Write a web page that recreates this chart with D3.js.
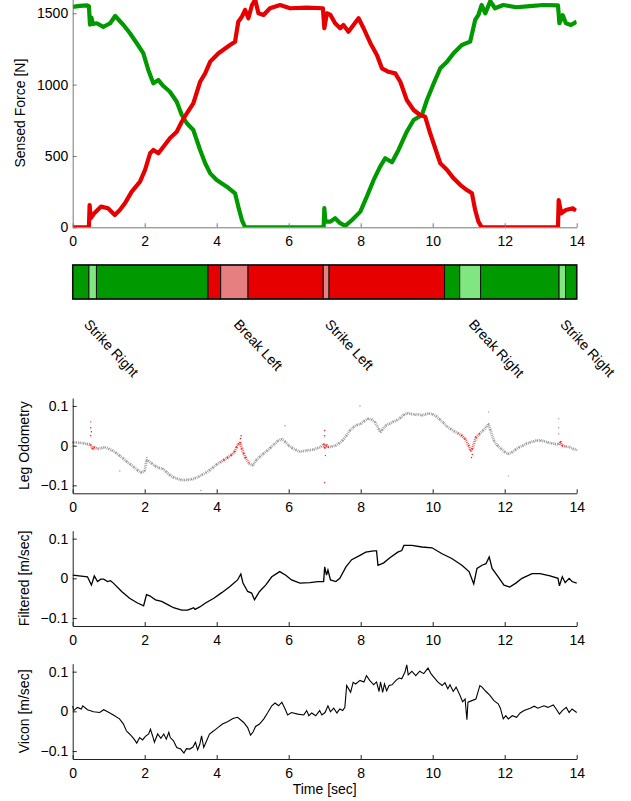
<!DOCTYPE html>
<meta charset="utf-8">
<style>
body { margin: 0; background: #fff; }
svg text { font-family: "Liberation Sans", Arial, sans-serif; font-size: 14px; fill: #000; }
.axis text { font-size: 14px; }
.axis--top path, .axis--top line { stroke: #777; }
.axis--low path, .axis--low line { stroke: #222; }
</style>
<body>
<svg width="631" height="801"></svg>
<script src="https://d3js.org/d3.v7.min.js"></script>
<script>

// ---- data ----
var timeTicks = [0, 2, 4, 6, 8, 10, 12, 14];
var forceTicks = [0, 500, 1000, 1500];
var velTicks = [-0.1, 0, 0.1];

// right foot force (green) [t, N]
var greenForce = [[0,1545],[0.2,1552],[0.4,1555],[0.45,1550],[0.48,1420],[0.52,1470],[0.56,1425],[0.67,1430],[0.85,1405],[1.04,1430],[1.18,1481],[1.41,1418],[1.59,1360],[1.78,1290],[1.96,1220],[2.1,1103],[2.24,1009],[2.38,1032],[2.52,990],[2.7,950],[2.89,880],[3.03,787],[3.17,729],[3.35,682],[3.54,542],[3.68,449],[3.82,378],[4.0,332],[4.28,285],[4.51,238],[4.6,145],[4.7,51],[4.79,0],[5.5,0],[6.5,0],[6.97,0],[6.99,134],[7.02,40],[7.16,40],[7.29,64],[7.43,29],[7.57,10],[7.76,51],[7.99,110],[8.17,215],[8.36,332],[8.54,425],[8.68,484],[8.87,456],[9.05,542],[9.28,670],[9.47,752],[9.7,787],[9.84,892],[10.03,1009],[10.21,1114],[10.4,1161],[10.58,1220],[10.81,1278],[11.04,1301],[11.18,1453],[11.27,1488],[11.36,1558],[11.46,1499],[11.6,1585],[11.73,1535],[11.96,1558],[12.33,1542],[12.7,1550],[13.07,1558],[13.48,1555],[13.52,1430],[13.61,1487],[13.7,1430],[13.84,1418],[14.0,1441]];

// left foot force (red) [t, N]
var redForce = [[0,0],[0.45,0],[0.47,156],[0.5,63],[0.6,98],[0.79,145],[0.98,133],[1.17,86],[1.31,121],[1.45,168],[1.64,250],[1.87,320],[2.01,402],[2.15,519],[2.24,542],[2.38,519],[2.52,565],[2.7,624],[2.89,670],[3.03,740],[3.17,799],[3.35,869],[3.54,1020],[3.68,1079],[3.82,1161],[4.05,1220],[4.37,1278],[4.51,1301],[4.6,1441],[4.7,1476],[4.79,1523],[4.88,1465],[4.98,1558],[5.07,1595],[5.16,1500],[5.3,1488],[5.48,1535],[5.76,1558],[6.04,1535],[6.5,1540],[6.95,1535],[6.99,1395],[7.06,1500],[7.16,1488],[7.29,1430],[7.43,1395],[7.52,1418],[7.66,1371],[7.8,1418],[7.94,1465],[8.08,1395],[8.27,1290],[8.45,1208],[8.59,1114],[8.77,1090],[8.96,1079],[9.1,1020],[9.28,892],[9.47,822],[9.65,787],[9.79,775],[9.93,659],[10.07,554],[10.21,449],[10.4,402],[10.58,343],[10.77,296],[10.95,261],[11.09,238],[11.18,121],[11.27,40],[11.36,0],[13.48,0],[13.5,191],[13.57,98],[13.7,121],[13.89,133],[13.98,117]];

// gait phases
var phaseEdges = [0, 0.45, 0.66, 3.76, 4.11, 4.87, 6.96, 7.12, 10.33, 10.75, 11.33, 13.51, 13.69, 14];
var phaseFoot  = ["R","R","R","L","L","L","L","L","R","R","R","R","R"];
var phaseShade = [0, 1, 0, 0, 1, 0, 1, 0, 0, 1, 0, 1, 0];
var eventNames = ["Strike Right", "Break Left", "Strike Left", "Break Right", "Strike Right"];
var eventTimes = [0.29, 4.45, 6.99, 10.98, 13.52];

// leg odometry [t, m/s]
var odometry = [[0,0.008],[0.1,0.008],[0.2,0.007],[0.3,0.006],[0.4,0.004],[0.5,0.002],[0.55,-0.008],[0.6,-0.004],[0.7,-0.008],[0.8,-0.006],[0.9,-0.004],[1.0,-0.008],[1.1,-0.012],[1.2,-0.018],[1.3,-0.025],[1.4,-0.032],[1.5,-0.04],[1.6,-0.047],[1.7,-0.054],[1.8,-0.062],[1.9,-0.068],[2.0,-0.064],[2.05,-0.036],[2.1,-0.038],[2.2,-0.045],[2.3,-0.052],[2.4,-0.056],[2.5,-0.058],[2.6,-0.066],[2.7,-0.074],[2.8,-0.08],[2.9,-0.083],[3.0,-0.086],[3.1,-0.087],[3.2,-0.086],[3.3,-0.085],[3.4,-0.082],[3.5,-0.078],[3.6,-0.073],[3.7,-0.068],[3.8,-0.062],[3.9,-0.055],[4.0,-0.047],[4.1,-0.042],[4.2,-0.036],[4.3,-0.03],[4.4,-0.024],[4.5,-0.015],[4.55,-0.004],[4.6,0.004],[4.65,0.008],[4.7,-0.008],[4.75,-0.02],[4.8,-0.03],[4.9,-0.045],[5.0,-0.05],[5.1,-0.036],[5.2,-0.028],[5.3,-0.02],[5.4,-0.013],[5.5,-0.005],[5.6,0.004],[5.7,0.012],[5.8,0.017],[5.9,0.01],[6.0,0.0],[6.1,-0.006],[6.2,-0.011],[6.3,-0.015],[6.4,-0.014],[6.5,-0.012],[6.6,-0.011],[6.7,-0.01],[6.8,-0.006],[6.9,-0.003],[6.98,0.004],[7.0,-0.006],[7.05,0.002],[7.1,-0.004],[7.2,-0.002],[7.3,0.0],[7.4,0.006],[7.5,0.013],[7.6,0.025],[7.7,0.038],[7.8,0.047],[7.9,0.052],[8.0,0.055],[8.1,0.062],[8.2,0.068],[8.3,0.066],[8.4,0.059],[8.5,0.042],[8.55,0.034],[8.6,0.04],[8.7,0.051],[8.8,0.055],[8.9,0.06],[9.0,0.064],[9.1,0.07],[9.2,0.078],[9.3,0.082],[9.4,0.08],[9.5,0.078],[9.6,0.079],[9.7,0.076],[9.8,0.079],[9.9,0.081],[10.0,0.079],[10.1,0.074],[10.2,0.066],[10.3,0.057],[10.4,0.048],[10.5,0.042],[10.6,0.036],[10.7,0.031],[10.8,0.026],[10.9,0.017],[11.0,0.0],[11.05,-0.013],[11.1,-0.008],[11.2,0.021],[11.3,0.03],[11.4,0.038],[11.5,0.048],[11.55,0.055],[11.6,0.04],[11.7,0.013],[11.8,0.0],[11.9,-0.008],[12.0,-0.016],[12.1,-0.021],[12.2,-0.017],[12.3,-0.01],[12.4,-0.004],[12.5,0.0],[12.6,0.005],[12.7,0.008],[12.8,0.011],[12.9,0.013],[13.0,0.013],[13.1,0.011],[13.2,0.008],[13.3,0.006],[13.4,0.004],[13.5,0.003],[13.55,0.01],[13.6,0.0],[13.7,-0.002],[13.8,-0.004],[13.9,-0.008],[14.0,-0.011]];
// stray odometry samples
var odometryStray = [[0.5,0.06],[0.5,0.045],[0.52,0.035],[0.5,0.025],[1.31,-0.064],[2.06,-0.03],[3.56,-0.113],[4.68,0.025],[4.66,0.018],[5.9,0.05],[7.0,0.038],[7.0,0.025],[7.0,-0.093],[7.02,-0.025],[7.98,0.1],[11.08,-0.03],[11.1,-0.022],[11.55,0.085],[12.1,-0.076],[13.5,0.068],[13.5,0.045],[13.5,0.03]];

// filtered velocity [t, m/s]
var filtered = [[0,0.008],[0.41,0.004],[0.52,-0.017],[0.6,0.006],[0.69,-0.008],[0.78,-0.002],[0.86,-0.002],[0.97,-0.008],[1.05,-0.006],[1.13,-0.012],[1.36,-0.033],[1.58,-0.05],[1.8,-0.062],[1.97,-0.069],[2.05,-0.041],[2.14,-0.044],[2.3,-0.054],[2.47,-0.058],[2.64,-0.066],[2.8,-0.074],[3.03,-0.08],[3.19,-0.08],[3.3,-0.076],[3.36,-0.074],[3.4,-0.078],[3.53,-0.072],[3.69,-0.062],[3.92,-0.05],[4.14,-0.036],[4.36,-0.021],[4.58,-0.004],[4.67,0.011],[4.73,-0.012],[4.86,-0.033],[4.97,-0.037],[5.05,-0.054],[5.19,-0.033],[5.36,-0.017],[5.53,0.004],[5.75,0.017],[5.92,0.008],[6.08,-0.004],[6.31,-0.012],[6.59,-0.011],[6.81,-0.008],[6.97,-0.008],[7.0,0.029],[7.05,0.008],[7.09,0.021],[7.16,-0.004],[7.31,-0.008],[7.42,0],[7.59,0.029],[7.75,0.047],[7.98,0.058],[8.14,0.066],[8.36,0.069],[8.44,0.069],[8.48,0.033],[8.64,0.039],[8.81,0.052],[9.03,0.066],[9.14,0.07],[9.2,0.083],[9.42,0.083],[9.7,0.079],[9.98,0.077],[10.26,0.062],[10.53,0.05],[10.81,0.033],[11.01,0.017],[11.14,-0.014],[11.23,0.025],[11.37,0.033],[11.48,0.037],[11.57,0.054],[11.65,0.025],[11.82,0.004],[11.98,-0.017],[12.14,-0.022],[12.31,-0.012],[12.48,0],[12.76,0.012],[12.98,0.012],[13.26,0.006],[13.48,0],[13.52,-0.019],[13.6,0.004],[13.68,-0.011],[13.79,0],[13.87,-0.008],[14,-0.012]];

// vicon velocity [t, m/s]
var vicon = [[0,0.013],[0.03,0.002],[0.13,0.01],[0.24,0.006],[0.28,0.014],[0.41,0.004],[0.58,-0.001],[0.75,-0.003],[0.86,0.004],[0.97,-0.001],[1.13,-0.009],[1.3,-0.019],[1.41,-0.032],[1.49,-0.049],[1.58,-0.057],[1.69,-0.068],[1.78,-0.08],[1.86,-0.066],[1.94,-0.072],[2.02,-0.063],[2.11,-0.057],[2.16,-0.045],[2.22,-0.062],[2.27,-0.078],[2.36,-0.057],[2.45,-0.068],[2.53,-0.057],[2.6,-0.07],[2.67,-0.053],[2.71,-0.066],[2.8,-0.074],[2.89,-0.091],[3.0,-0.095],[3.09,-0.105],[3.16,-0.094],[3.25,-0.095],[3.34,-0.09],[3.41,-0.078],[3.47,-0.097],[3.53,-0.083],[3.58,-0.062],[3.64,-0.091],[3.72,-0.074],[3.8,-0.057],[3.92,-0.049],[4.03,-0.041],[4.16,-0.032],[4.3,-0.026],[4.45,-0.018],[4.58,-0.015],[4.75,-0.028],[4.86,-0.041],[4.94,-0.06],[5.01,-0.052],[5.08,-0.038],[5.19,-0.032],[5.31,-0.019],[5.42,-0.003],[5.53,0.014],[5.62,0.021],[5.72,0.014],[5.81,0.023],[5.9,0.006],[5.97,-0.009],[6.08,-0.003],[6.25,-0.007],[6.42,-0.009],[6.5,0.002],[6.56,-0.011],[6.64,-0.004],[6.75,-0.011],[6.86,0.002],[6.92,-0.009],[7.01,-0.003],[7.09,0.014],[7.16,-0.001],[7.25,0.008],[7.34,-0.004],[7.42,0.006],[7.5,0.002],[7.56,0.01],[7.61,0.065],[7.67,0.056],[7.72,0.048],[7.79,0.073],[7.86,0.069],[7.98,0.078],[8.09,0.074],[8.16,0.09],[8.25,0.078],[8.36,0.067],[8.44,0.074],[8.51,0.05],[8.55,0.074],[8.61,0.048],[8.66,0.069],[8.72,0.052],[8.79,0.065],[8.87,0.067],[8.98,0.078],[9.07,0.084],[9.14,0.082],[9.23,0.099],[9.28,0.117],[9.32,0.092],[9.42,0.101],[9.53,0.09],[9.64,0.101],[9.75,0.095],[9.87,0.109],[9.95,0.095],[10.03,0.086],[10.14,0.074],[10.26,0.065],[10.34,0.072],[10.42,0.057],[10.48,0.067],[10.57,0.05],[10.65,0.061],[10.76,0.04],[10.83,0.024],[10.9,0.031],[10.95,-0.021],[10.98,0.023],[11.09,0.027],[11.2,0.031],[11.31,0.065],[11.37,0.061],[11.48,0.05],[11.59,0.04],[11.7,0.027],[11.82,0.019],[11.88,0.008],[11.96,-0.019],[12.03,-0.011],[12.1,-0.019],[12.21,-0.011],[12.33,-0.015],[12.43,-0.004],[12.54,0.002],[12.71,0.008],[12.82,0.013],[12.92,0.008],[13.09,0.014],[13.2,0.01],[13.35,0.016],[13.43,0.006],[13.52,-0.007],[13.6,0.002],[13.71,0.01],[13.79,-0.003],[13.87,0.006],[14,-0.003]];

// ---- layout ----
var svg = d3.select("svg");
var green = "#009900", greenLight = "#80e680", red = "#e60000", redLight = "#e68080";

var x = d3.scaleLinear().domain([0, 14]).range([72.7, 576.7]);

function isShaded(t) {
  for (var i = 0; i < phaseShade.length; i++) {
    if (phaseShade[i] && t >= phaseEdges[i] && t <= phaseEdges[i + 1]) return true;
  }
  return false;
}

function drawAxes(y, ticks, bottom, cls, label, labelX) {
  var g = svg.append("g");
  g.append("g")
      .attr("class", "axis " + cls)
      .attr("transform", "translate(0," + bottom + ")")
      .call(d3.axisBottom(x).tickValues(timeTicks).tickSizeInner(-4).tickSizeOuter(0).tickPadding(9));
  g.append("g")
      .attr("class", "axis " + cls)
      .attr("transform", "translate(" + x(0) + ",0)")
      .call(d3.axisLeft(y).tickValues(ticks).tickSizeInner(-4).tickSizeOuter(0).tickPadding(4.5)
        .tickFormat(function(d) { return d < 0 ? "\u2212" + Math.abs(d) : d; }));
  svg.selectAll(".axis text").attr("fill", "#000").style("font-family", "'Liberation Sans', Arial, sans-serif").style("font-size", "14px");
  var r = y.range();
  svg.append("text")
      .attr("transform", "translate(" + labelX + "," + ((r[0] + r[1]) / 2) + ") rotate(-90)")
      .attr("text-anchor", "middle")
      .text(label);
  return g;
}

// ---- panel 1: sensed force ----
var yF = d3.scaleLinear().domain([0, 1600]).range([227.3, -1]);
svg.append("clipPath").attr("id", "clipF").append("rect")
    .attr("x", x(0)).attr("y", yF(1600)).attr("width", x(14) - x(0)).attr("height", yF(0) - yF(1600));

var forceLine = d3.line().x(function(d) { return x(d[0]); }).y(function(d) { return yF(d[1]); });
var fg = svg.append("g").attr("clip-path", "url(#clipF)");
fg.append("path").datum(greenForce).attr("d", forceLine)
    .attr("fill", "none").attr("stroke", green).attr("stroke-width", 4.2).attr("stroke-linejoin", "round");
fg.append("path").datum(redForce).attr("d", forceLine)
    .attr("fill", "none").attr("stroke", red).attr("stroke-width", 4.2).attr("stroke-linejoin", "round");
drawAxes(yF, forceTicks, 227.3, "axis--top", "Sensed Force [N]", 25);

// ---- gait phase bar ----
var barTop = 265, barBottom = 299;
var phases = phaseFoot.map(function(f, i) {
  return { t0: phaseEdges[i], t1: phaseEdges[i + 1], foot: f, shade: phaseShade[i] };
});
svg.selectAll(".phase")
  .data(phases)
  .enter().append("rect")
    .attr("class", "phase")
    .attr("x", function(d) { return x(d.t0); })
    .attr("y", barTop)
    .attr("width", function(d) { return x(d.t1) - x(d.t0); })
    .attr("height", barBottom - barTop)
    .attr("fill", function(d) {
      if (d.foot == "R") return d.shade ? greenLight : green;
      return d.shade ? redLight : red;
    })
    .attr("stroke", "#111")
    .attr("stroke-width", 1);
svg.append("rect")
    .attr("x", x(0)).attr("y", barTop)
    .attr("width", x(14) - x(0)).attr("height", barBottom - barTop)
    .attr("fill", "none").attr("stroke", "#111").attr("stroke-width", 1.5);

svg.selectAll(".event")
  .data(eventNames)
  .enter().append("text")
    .attr("class", "event")
    .attr("transform", function(d, i) { return "translate(" + x(eventTimes[i]) + ",325) rotate(47)"; })
    .text(function(d) { return d; });

// ---- panel 2: leg odometry ----
var yO = d3.scaleLinear().domain([-0.12, 0.12]).range([493.3, 398]);
var og = svg.append("g");
for (var i = 0; i < odometry.length - 1; i++) {
  var a = odometry[i], b = odometry[i + 1];
  var col = isShaded((a[0] + b[0]) / 2) ? "#ee1111" : "#777";
  og.append("line")
      .attr("x1", x(a[0])).attr("y1", yO(a[1]))
      .attr("x2", x(b[0])).attr("y2", yO(b[1]))
      .attr("stroke", col).attr("stroke-width", 2.8)
      .attr("stroke-dasharray", "0.8 1").attr("opacity", 0.75);
}
og.selectAll(".odo")
  .data(odometry.concat(odometryStray))
  .enter().append("circle")
    .attr("cx", function(d) { return x(d[0]); })
    .attr("cy", function(d) { return yO(d[1]); })
    .attr("r", 0.7)
    .attr("fill", function(d) { return isShaded(d[0]) ? "#ee1111" : "#999"; });
drawAxes(yO, velTicks, 493.3, "axis--low", "Leg Odometry", 29);

// ---- panel 3: filtered ----
var yV = d3.scaleLinear().domain([-0.12, 0.12]).range([626, 530.7]);
var velLine = d3.line().x(function(d) { return x(d[0]); }).y(function(d) { return yV(d[1]); });
svg.append("path").datum(filtered).attr("d", velLine)
    .attr("fill", "none").attr("stroke", "#000").attr("stroke-width", 1.3);
drawAxes(yV, velTicks, 626, "axis--low", "Filtered [m/sec]", 29);

// ---- panel 4: vicon ----
var yC = d3.scaleLinear().domain([-0.12, 0.12]).range([759, 663.7]);
var viconLine = d3.line().x(function(d) { return x(d[0]); }).y(function(d) { return yC(d[1]); });
svg.append("path").datum(vicon).attr("d", viconLine)
    .attr("fill", "none").attr("stroke", "#000").attr("stroke-width", 1.1);
drawAxes(yC, velTicks, 759, "axis--low", "Vicon [m/sec]", 29);

svg.append("text")
    .attr("x", (x(0) + x(14)) / 2)
    .attr("y", 794)
    .attr("text-anchor", "middle")
    .text("Time [sec]");

</script>
</body>
